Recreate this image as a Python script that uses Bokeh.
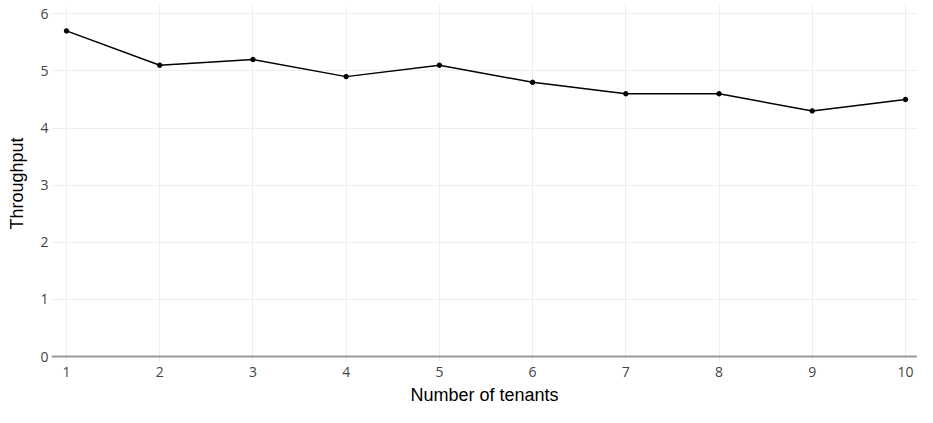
from bokeh.plotting import figure
from bokeh.models import FixedTicker, Span, Range1d, ColumnDataSource
from bokeh.embed import file_html
from bokeh.resources import INLINE

tenants = [1, 2, 3, 4, 5, 6, 7, 8, 9, 10]
throughput = [5.7, 5.1, 5.2, 4.9, 5.1, 4.8, 4.6, 4.6, 4.3, 4.5]
x_ticks = [1, 2, 3, 4, 5, 6, 7, 8, 9, 10]
y_ticks = [0, 1, 2, 3, 4, 5, 6]

src = ColumnDataSource(dict(x=tenants, y=throughput))

p = figure(width=917, height=407, output_backend="svg", toolbar_location=None,
           x_range=Range1d(0.839, 10.129), y_range=Range1d(-0.087, 6.145),
           min_border_left=51, min_border_right=0, min_border_top=5, min_border_bottom=45)
p.outline_line_color = None
p.background_fill_color = "white"
p.border_fill_color = "white"

p.add_layout(Span(location=0, dimension="width", line_color="#999999", line_width=2))

p.line("x", "y", source=src, line_color="black", line_width=1.5)
p.scatter("x", "y", source=src, size=4.5, color="black")

for ax in (p.xaxis[0], p.yaxis[0]):
    ax.axis_line_color = None
    ax.major_tick_line_color = None
    ax.minor_tick_line_color = None
    ax.major_tick_out = 0
    ax.major_tick_in = 0
    ax.major_label_text_font = "Open Sans"
    ax.major_label_text_font_size = "14px"
    ax.major_label_text_color = "#444444"
    ax.axis_label_text_font = "Liberation Sans"
    ax.axis_label_text_font_size = "18px"
    ax.axis_label_text_font_style = "normal"
    ax.axis_label_text_color = "black"

p.xaxis.ticker = FixedTicker(ticks=x_ticks)
p.yaxis.ticker = FixedTicker(ticks=y_ticks)
p.xaxis.axis_label = "Number of tenants"
p.yaxis.axis_label = "Throughput"
p.xaxis.major_label_standoff = 5
p.xaxis.axis_label_standoff = 5
p.yaxis.major_label_standoff = 3
p.yaxis.axis_label_standoff = 10

p.xgrid.ticker = FixedTicker(ticks=x_ticks)
p.ygrid.ticker = FixedTicker(ticks=y_ticks)
p.xgrid.grid_line_color = "#eeeeee"
p.ygrid.grid_line_color = "#eeeeee"
p.xgrid.grid_line_width = 1
p.ygrid.grid_line_width = 1

open("out.html", "w").write(file_html(p, INLINE))
